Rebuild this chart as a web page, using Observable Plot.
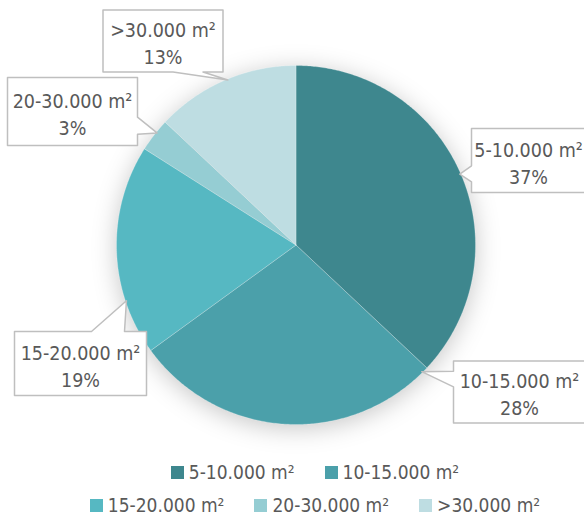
<!DOCTYPE html>
<html>
<head>
<meta charset="utf-8">
<script src="https://cdn.jsdelivr.net/npm/d3@7"></script>
<script src="https://cdn.jsdelivr.net/npm/@observablehq/plot@0.6"></script>
<style>
  body { margin: 0; background: #fff; }
  #chart { width: 584px; }
  .lg { display:flex; flex-wrap:wrap; justify-content:center; font-family: "Liberation Sans Narrow","DejaVu Sans Condensed","Roboto Condensed",sans-serif; font-stretch: condensed; font-size: 19px; color:#595959; row-gap: 0; padding-left: 76px; margin-top: 6px; box-sizing: border-box; width: 584px; }
  .lg .it { display:inline-flex; align-items:center; margin-right: 30px; height: 33px; line-height: 33px; }
  .lg .it svg { margin-right: 5px; }
</style>
</head>
<body>
<div id="chart"></div>
<script>
// ---- data ----
const categories = ["5-10.000 m²", "10-15.000 m²", "15-20.000 m²", "20-30.000 m²", ">30.000 m²"];
const shares = [37, 28, 19, 3, 13];
const colors = ["#3e878e", "#4ba0aa", "#56b8c2", "#95cdd3", "#bedde2"];

// ---- layout (not data) ----
const W = 584, H = 450;
const pieCenter = [295.5, 244.5], pieRadius = 179.5;
const calloutBoxes = [
  {cx: 528, cy: 160, w: 114, h: 64},
  {cx: 519, cy: 391.5, w: 132, h: 62},
  {cx: 80, cy: 363, w: 132, h: 64},
  {cx: 72, cy: 111, w: 130, h: 68},
  {cx: 162.5, cy: 40.5, w: 120, h: 62}
];
const tipFractions = [0.5, 0.02, 0.26, 0.6, 0.52];

const font = '"Liberation Sans Narrow","DejaVu Sans Condensed","Roboto Condensed",sans-serif';

// slices from d3.pie (clockwise from top)
const arcs = d3.pie().sort(null).value(d => d)(shares);
const polar = (a, r) => ({x: pieCenter[0] + r * Math.sin(a), y: pieCenter[1] - r * Math.cos(a)});

const slicePts = [];
arcs.forEach((a, i) => {
  const cat = categories[i];
  slicePts.push({cat, ...polar(0, 0)});
  const n = Math.max(2, Math.ceil((a.endAngle - a.startAngle) / 0.01));
  for (let k = 0; k <= n; k++) {
    const ang = a.startAngle + (a.endAngle - a.startAngle) * k / n;
    slicePts.push({cat, ...polar(ang, pieRadius)});
  }
  slicePts.push({cat, ...polar(0, 0)});
});

// callouts
function calloutPoly(b, tip) {
  const x0 = b.cx - b.w / 2, x1 = b.cx + b.w / 2, y0 = b.cy - b.h / 2, y1 = b.cy + b.h / 2;
  const dxPos = tip.x - b.cx, dyPos = tip.y - b.cy;
  const xg1 = dxPos > 0 ? 7 : 2, xg2 = dxPos > 0 ? 10 : 5;
  const yg1 = dyPos > 0 ? 7 : 2, yg2 = dyPos > 0 ? 10 : 5;
  const yA = y0 + b.h * yg1 / 12, yB = y0 + b.h * yg2 / 12;
  const xA = x0 + b.w * xg1 / 12, xB = x0 + b.w * xg2 / 12;
  let p;
  if (Math.abs(dxPos * b.h) > Math.abs(dyPos * b.w)) {
    if (dxPos < 0) p = [[x0,y0],[x1,y0],[x1,y1],[x0,y1],[x0,yB],[tip.x,tip.y],[x0,yA],[x0,y0]];
    else p = [[x0,y0],[x1,y0],[x1,yA],[tip.x,tip.y],[x1,yB],[x1,y1],[x0,y1],[x0,y0]];
  } else {
    if (dyPos < 0) p = [[x0,y0],[xA,y0],[tip.x,tip.y],[xB,y0],[x1,y0],[x1,y1],[x0,y1],[x0,y0]];
    else p = [[x0,y0],[x1,y0],[x1,y1],[xB,y1],[tip.x,tip.y],[xA,y1],[x0,y1],[x0,y0]];
  }
  return p;
}
const calloutPts = [];
const labels = [];
arcs.forEach((a, i) => {
  const ang = a.startAngle + (a.endAngle - a.startAngle) * tipFractions[i];
  const tip = polar(ang, pieRadius - 1);
  calloutPoly(calloutBoxes[i], tip).forEach(([x, y]) => calloutPts.push({cat: categories[i], x, y}));
  labels.push({x: calloutBoxes[i].cx, y: calloutBoxes[i].cy + 1, text: `${categories[i]}\n${shares[i]}%`});
});

const colorScale = {type: "ordinal", domain: categories, range: colors};

const chart = Plot.plot({
  width: W, height: H,
  margin: 0,
  x: {domain: [0, W], range: [0, W], axis: null},
  y: {domain: [0, H], range: [0, H], axis: null},
  color: colorScale,
  style: {fontFamily: font, fontSize: "19px", background: "#fff", overflow: "visible"},
  marks: [
    Plot.line(slicePts, {x: "x", y: "y", z: "cat", fill: "cat", stroke: "#fff", strokeWidth: 0.4, strokeOpacity: 0.6, curve: "linear"}),
    Plot.line(calloutPts, {x: "x", y: "y", z: "cat", fill: "#fff", stroke: "#bfbfbf", strokeWidth: 1.5, curve: "linear"}),
    Plot.text(labels, {x: "x", y: "y", text: "text", fill: "#595959", fontSize: 19.5, lineHeight: 1.4, stroke: null})
  ]
});
const lineGroups = chart.querySelectorAll('g[aria-label="line"]');
if (lineGroups[0]) lineGroups[0].style.filter = "drop-shadow(0px 4px 12px rgba(0,0,0,0.22))";
document.getElementById("chart").appendChild(chart);

// legend: two rows (2 + 3 items), swatch colours from Plot's colour scale
const lg = document.createElement("div");
lg.className = "lg";
const leg = Plot.legend({color: colorScale, swatchSize: 13});
const sw = Array.from(leg.querySelectorAll("span")).filter(s => s.querySelector("svg"));
sw.forEach((s, i) => {
  s.className = "it";
  lg.appendChild(s);
  if (i === 1) { const br = document.createElement("div"); br.style.flexBasis = "100%"; br.style.height = "0"; lg.appendChild(br); }
});
document.getElementById("chart").appendChild(lg);
</script>
</body>
</html>
